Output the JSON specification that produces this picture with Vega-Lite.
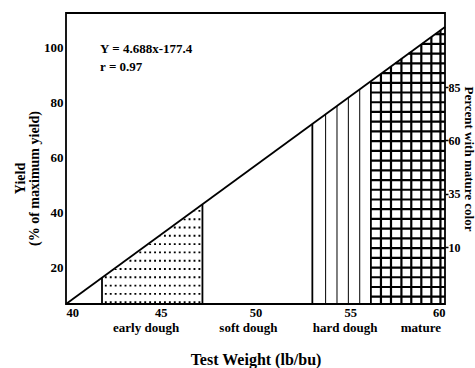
{
  "$schema": "https://vega.github.io/schema/vega-lite/v6.json",
  "width": 379,
  "height": 291,
  "autosize": {"type": "none"},
  "padding": {"left": 66, "top": 13, "right": 30, "bottom": 64},
  "config": {
    "view": {"stroke": "#000", "strokeWidth": 1.8},
    "font": "Liberation Serif",
    "axis": {"labelFont": "Liberation Serif", "titleFont": "Liberation Serif", "labelFontWeight": "bold", "titleFontWeight": "bold", "labelColor": "#000", "titleColor": "#000", "grid": false, "domain": false}
  },
  "datasets": {
    "trend": [{"x": 40, "y": 6.9}, {"x": 60, "y": 107.6}],
    "bounds": [
      {"x": 41.9, "y": 6.9, "y2": 16.47},
      {"x": 47.2, "y": 6.9, "y2": 43.15},
      {"x": 53.0, "y": 6.9, "y2": 72.36},
      {"x": 56.09, "y": 6.9, "y2": 87.91}
    ],
    "hard": [
      {"x": 53.7, "y": 6.9, "y2": 75.88},
      {"x": 54.3, "y": 6.9, "y2": 78.9},
      {"x": 54.9, "y": 6.9, "y2": 81.92},
      {"x": 55.5, "y": 6.9, "y2": 84.94}
    ],
    "matureV": [
      {"x": 56.62, "y": 6.9, "y2": 90.58},
      {"x": 57.15, "y": 6.9, "y2": 93.25},
      {"x": 57.7, "y": 6.9, "y2": 96.02},
      {"x": 58.22, "y": 6.9, "y2": 98.64},
      {"x": 58.75, "y": 6.9, "y2": 101.31},
      {"x": 59.28, "y": 6.9, "y2": 103.97},
      {"x": 59.76, "y": 6.9, "y2": 106.39}
    ],
    "matureH": [
      {"x": 56.09, "x2": 60, "y": 9.55},
      {"x": 56.09, "x2": 60, "y": 13.08},
      {"x": 56.09, "x2": 60, "y": 16.62},
      {"x": 56.09, "x2": 60, "y": 20.15},
      {"x": 56.09, "x2": 60, "y": 23.69},
      {"x": 56.09, "x2": 60, "y": 27.22},
      {"x": 56.09, "x2": 60, "y": 30.76},
      {"x": 56.09, "x2": 60, "y": 34.29},
      {"x": 56.09, "x2": 60, "y": 37.83},
      {"x": 56.09, "x2": 60, "y": 41.37},
      {"x": 56.09, "x2": 60, "y": 44.9},
      {"x": 56.09, "x2": 60, "y": 48.44},
      {"x": 56.09, "x2": 60, "y": 51.97},
      {"x": 56.09, "x2": 60, "y": 55.51},
      {"x": 56.09, "x2": 60, "y": 59.04},
      {"x": 56.09, "x2": 60, "y": 62.58},
      {"x": 56.09, "x2": 60, "y": 66.11},
      {"x": 56.09, "x2": 60, "y": 69.65},
      {"x": 56.09, "x2": 60, "y": 73.18},
      {"x": 56.09, "x2": 60, "y": 76.72},
      {"x": 56.09, "x2": 60, "y": 80.25},
      {"x": 56.09, "x2": 60, "y": 83.79},
      {"x": 56.09, "x2": 60, "y": 87.32},
      {"x": 56.68, "x2": 60, "y": 90.86},
      {"x": 57.38, "x2": 60, "y": 94.39},
      {"x": 58.08, "x2": 60, "y": 97.93},
      {"x": 58.78, "x2": 60, "y": 101.46},
      {"x": 59.48, "x2": 60, "y": 105.0}
    ],
    "dots": [
      {"x": 42.1, "y": 7.2, "y2": 17.0},
      {"x": 42.36, "y": 7.2, "y2": 18.3},
      {"x": 42.62, "y": 7.2, "y2": 19.6},
      {"x": 42.88, "y": 7.2, "y2": 20.9},
      {"x": 43.14, "y": 7.2, "y2": 22.2},
      {"x": 43.4, "y": 7.2, "y2": 23.5},
      {"x": 43.66, "y": 7.2, "y2": 24.8},
      {"x": 43.92, "y": 7.2, "y2": 26.1},
      {"x": 44.18, "y": 7.2, "y2": 27.4},
      {"x": 44.44, "y": 7.2, "y2": 28.8},
      {"x": 44.7, "y": 7.2, "y2": 30.1},
      {"x": 44.96, "y": 7.2, "y2": 31.4},
      {"x": 45.22, "y": 7.2, "y2": 32.7},
      {"x": 45.48, "y": 7.2, "y2": 34.0},
      {"x": 45.74, "y": 7.2, "y2": 35.3},
      {"x": 46.0, "y": 7.2, "y2": 36.6},
      {"x": 46.26, "y": 7.2, "y2": 37.9},
      {"x": 46.52, "y": 7.2, "y2": 39.2},
      {"x": 46.78, "y": 7.2, "y2": 40.5},
      {"x": 47.04, "y": 7.2, "y2": 41.9}
    ],
    "stages": [
      {"pos": 44.2, "stage": "early dough"},
      {"pos": 49.6, "stage": "soft dough"},
      {"pos": 54.7, "stage": "hard dough"},
      {"pos": 58.7, "stage": "mature"}
    ],
    "rightTicks": [{"p": 10}, {"p": 35}, {"p": 60}, {"p": 85}]
  },
  "layer": [
    {
      "layer": [
        {
          "data": {"name": "dots"},
          "mark": {"type": "rule", "color": "#000", "strokeWidth": 1.9, "strokeDash": [1.9, 6.4]},
          "encoding": {
            "x": {"field": "x", "type": "quantitative", "scale": {"domain": [40, 60], "nice": false, "zero": false}, "axis": {"values": [40, 45, 50, 55, 60], "ticks": false, "labelFlush": true, "labelFontSize": 12.5, "labelPadding": 2, "title": null, "format": "d"}},
            "y": {"field": "y", "type": "quantitative", "scale": {"domain": [6.9, 112.7], "nice": false, "zero": false}, "axis": {"values": [20, 40, 60, 80, 100], "ticks": false, "labelFontSize": 13, "labelPadding": 3, "title": ["Yield", "(% of maximum yield)"], "titleFontSize": 14, "titleLineHeight": 14, "titleX": -53, "titleY": 165, "titleBaseline": "top"}},
            "y2": {"field": "y2"}
          }
        },
        {
          "data": {"name": "hard"},
          "mark": {"type": "rule", "color": "#000", "strokeWidth": 1},
          "encoding": {
            "x": {"field": "x", "type": "quantitative"},
            "y": {"field": "y", "type": "quantitative"},
            "y2": {"field": "y2"}
          }
        },
        {
          "data": {"name": "matureV"},
          "mark": {"type": "rule", "color": "#000", "strokeWidth": 2.2},
          "encoding": {
            "x": {"field": "x", "type": "quantitative"},
            "y": {"field": "y", "type": "quantitative"},
            "y2": {"field": "y2"}
          }
        },
        {
          "data": {"name": "matureH"},
          "mark": {"type": "rule", "color": "#000", "strokeWidth": 2.2},
          "encoding": {
            "x": {"field": "x", "type": "quantitative"},
            "x2": {"field": "x2"},
            "y": {"field": "y", "type": "quantitative"}
          }
        },
        {
          "data": {"name": "bounds"},
          "mark": {"type": "rule", "color": "#000", "strokeWidth": 1.8},
          "encoding": {
            "x": {"field": "x", "type": "quantitative"},
            "y": {"field": "y", "type": "quantitative"},
            "y2": {"field": "y2"}
          }
        },
        {
          "data": {"name": "trend"},
          "mark": {"type": "line", "color": "#000", "strokeWidth": 1.8},
          "encoding": {
            "x": {"field": "x", "type": "quantitative"},
            "y": {"field": "y", "type": "quantitative"}
          }
        },
        {
          "data": {"name": "trend"},
          "mark": {"type": "text", "align": "left", "baseline": "middle", "fontSize": 13, "fontWeight": "bold", "font": "Liberation Serif", "lineHeight": 18, "color": "#000", "text": ["Y = 4.688x-177.4", "r = 0.97"]},
          "encoding": {
            "x": {"datum": 41.8, "type": "quantitative"},
            "y": {"datum": 99.6, "type": "quantitative"}
          },
          "transform": [{"filter": "datum.x == 40"}]
        }
      ]
    },
    {
      "data": {"name": "stages"},
      "mark": {"type": "point", "opacity": 0},
      "encoding": {
        "x": {"field": "pos", "type": "quantitative", "scale": {"domain": [40, 60], "nice": false, "zero": false}, "axis": {"orient": "bottom", "values": [44.2, 49.6, 54.7, 58.7], "labelExpr": "datum.value < 47 ? 'early dough' : datum.value < 52 ? 'soft dough' : datum.value < 56 ? 'hard dough' : 'mature'", "ticks": false, "labelOverlap": false, "labelBound": false, "labelFontSize": 13, "labelPadding": 17, "title": "Test Weight (lb/bu)", "titleFontSize": 16, "titlePadding": 17}}
      }
    },
    {
      "data": {"name": "rightTicks"},
      "mark": {"type": "point", "opacity": 0},
      "encoding": {
        "y": {"field": "p", "type": "quantitative", "scale": {"domain": [-16.7, 119.7], "nice": false, "zero": false}, "axis": {"orient": "right", "values": [10, 35, 60, 85], "ticks": true, "tickSize": 3, "tickWidth": 1.5, "tickColor": "#000", "labelFontSize": 12, "labelPadding": 0, "title": "Percent with mature color", "titleFontSize": 13, "titlePadding": 1}}
      }
    }
  ],
  "resolve": {"scale": {"x": "independent", "y": "independent"}}
}
